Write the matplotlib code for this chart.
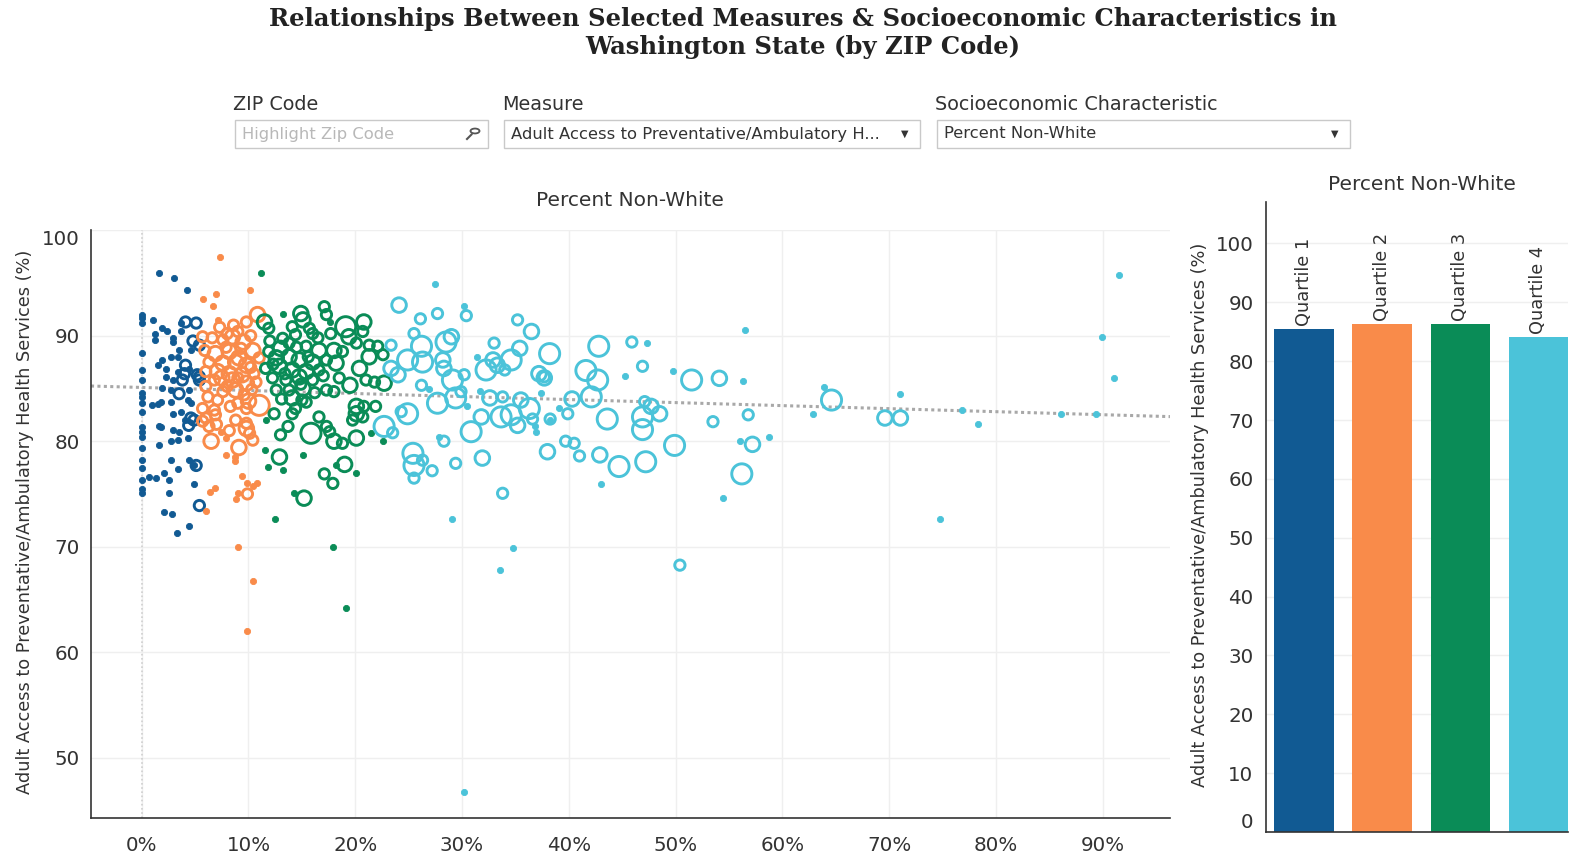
import numpy as np
import matplotlib
matplotlib.use("Agg")
import matplotlib.pyplot as plt
from matplotlib.patches import Rectangle, Circle
from matplotlib.lines import Line2D

# ---- data: (percent non-white, access %, size code) ----
q1_points = [
    (0.0, 91.96, 0), (0.0, 91.65, 0), (0.0, 91.18, 0), (0.0, 88.33, 0), (0.0, 86.75, 0),
    (0.0, 85.8, 0), (0.0, 84.54, 0), (0.0, 84.2, 0), (0.0, 83.6, 0), (0.0, 82.8, 0),
    (0.0, 81.37, 0), (0.0, 80.9, 0), (0.0, 80.43, 0), (0.0, 79.33, 0), (0.0, 78.2, 0),
    (0.0, 77.43, 0), (0.0, 76.3, 0), (0.0, 75.5, 0), (0.0, 75.06, 0),
    (1.6, 95.9, 0), (3.0, 95.5, 0), (4.2, 94.3, 0), (1.1, 91.5, 0), (1.2, 90.2, 0),
    (1.2, 89.6, 0), (1.9, 90.7, 0), (2.4, 90.4, 0), (2.9, 89.8, 0), (2.9, 89.4, 0),
    (3.7, 90.4, 0), (3.7, 91.2, 0), (4.1, 91.3, 1), (5.1, 91.2, 1), (4.8, 89.5, 1),
    (5.4, 89.1, 1), (4.6, 88.6, 0), (3.5, 88.6, 0), (3.4, 88.0, 0), (1.9, 87.7, 0),
    (1.5, 87.2, 0), (2.7, 88.0, 0), (4.1, 87.2, 1), (3.4, 86.6, 0), (2.3, 86.8, 0),
    (2.3, 86.1, 0), (4.0, 86.4, 1), (4.4, 86.8, 0), (5.2, 86.3, 1), (5.4, 85.8, 1),
    (3.8, 85.8, 1), (2.9, 85.8, 0), (1.9, 85.0, 0), (2.7, 84.9, 0), (3.5, 84.5, 1),
    (4.4, 84.9, 0), (4.3, 83.9, 0), (1.8, 83.7, 0), (2.7, 83.7, 0), (1.0, 83.4, 0),
    (1.5, 83.5, 0), (4.6, 83.6, 0), (2.9, 82.6, 0), (3.7, 82.8, 0), (4.1, 82.0, 0),
    (4.6, 82.2, 1), (4.9, 82.0, 1), (4.4, 81.5, 1), (2.9, 81.1, 0), (3.5, 80.9, 0),
    (1.6, 81.4, 0), (1.8, 81.3, 0), (4.3, 80.3, 0), (2.7, 80.0, 0), (3.4, 80.1, 0),
    (1.6, 79.6, 0), (2.7, 78.2, 0), (4.4, 78.2, 0), (5.1, 77.7, 1), (3.4, 77.4, 0),
    (0.7, 76.6, 0), (1.3, 76.5, 0), (2.1, 77.0, 0), (2.6, 76.3, 0), (4.9, 75.9, 0),
    (2.6, 75.1, 0), (5.4, 73.9, 1), (2.1, 73.3, 0), (2.8, 73.1, 0), (4.4, 72.0, 0),
    (3.3, 71.3, 0), (5.4, 86.1, 1), (4.9, 77.7, 0),
]

q2_points = [
    (7.35, 97.5, 0), (7.0, 94.0, 0), (5.7, 93.5, 0), (6.7, 92.8, 0), (10.1, 94.3, 0),
    (7.1, 91.5, 0), (7.9, 78.7, 0), (8.7, 78.5, 0), (8.75, 78.1, 0), (6.9, 75.6, 0),
    (6.4, 75.2, 0), (9.4, 76.7, 0), (9.9, 76.0, 0), (10.4, 75.75, 0), (10.8, 76.0, 0),
    (9.0, 75.1, 0), (8.8, 74.5, 0), (9.9, 75.0, 1), (6.0, 73.4, 0), (9.0, 70.0, 0),
    (10.4, 66.75, 0), (9.9, 62.0, 0),
    (10.85, 92.0, 2), (9.8, 91.3, 1), (8.5, 89.9, 2), (7.6, 89.6, 1), (6.6, 89.8, 1),
    (5.7, 89.9, 1), (5.9, 88.6, 1), (6.9, 88.3, 2), (8.2, 88.5, 2), (9.3, 88.8, 1),
    (10.4, 88.6, 2), (11.0, 87.9, 1), (6.3, 87.5, 1), (7.6, 87.4, 2), (8.8, 87.5, 2),
    (9.8, 87.2, 2), (6.0, 86.6, 1), (7.1, 86.6, 2), (8.2, 86.4, 2), (9.4, 86.3, 2),
    (10.5, 86.4, 1), (6.8, 85.8, 1), (8.5, 85.8, 2), (9.8, 85.5, 2), (10.7, 85.6, 1),
    (6.0, 85.2, 1), (7.6, 84.7, 1), (8.8, 84.85, 2), (9.6, 84.4, 1), (6.2, 84.2, 1),
    (7.1, 83.9, 1), (9.0, 83.6, 1), (11.0, 83.4, 3), (5.7, 83.1, 1), (6.8, 82.95, 1),
    (9.8, 83.1, 1), (6.0, 82.2, 1), (6.9, 82.5, 1), (8.8, 82.0, 1), (9.8, 81.7, 1),
    (5.7, 81.9, 1), (6.3, 81.4, 1), (7.4, 80.9, 0), (10.4, 80.1, 1), (6.5, 80.0, 2),
    (7.9, 80.3, 0), (10.1, 80.75, 1), (9.8, 81.2, 2),
    (8.0, 90.2, 1), (9.0, 90.4, 1), (7.3, 90.8, 1), (10.2, 90.0, 1), (8.6, 91.0, 1),
    (9.5, 89.4, 2), (7.9, 88.9, 1), (9.1, 87.9, 2), (10.2, 87.0, 1), (7.5, 86.0, 2),
    (9.0, 86.0, 1), (8.0, 85.2, 1), (10.3, 84.9, 1), (10.0, 83.8, 2), (8.3, 83.3, 1),
    (7.0, 81.6, 1), (8.2, 81.0, 1), (9.1, 79.4, 2),
]

q3_points = [
    (17.1, 92.75, 1), (17.3, 92.0, 1), (17.6, 91.3, 0), (14.9, 92.1, 2), (15.1, 91.5, 2),
    (13.2, 92.1, 0), (11.5, 91.3, 2), (11.9, 90.7, 1), (14.1, 90.85, 1), (15.7, 90.7, 1),
    (16.0, 90.2, 1), (19.1, 90.85, 3), (20.8, 91.3, 2), (20.7, 90.4, 1), (17.7, 90.2, 1),
    (19.4, 89.9, 2), (13.2, 89.75, 1), (14.4, 90.1, 1), (13.8, 89.3, 1), (15.4, 89.0, 1),
    (16.6, 88.6, 2), (18.0, 88.6, 2), (18.8, 88.5, 1), (20.1, 89.3, 1), (21.3, 89.1, 1),
    (22.1, 89.0, 1), (21.3, 88.0, 2), (22.6, 88.2, 1), (11.9, 88.5, 1), (12.6, 87.9, 2),
    (13.8, 88.0, 2), (14.75, 87.7, 2), (16.0, 87.5, 2), (17.3, 87.7, 1), (18.2, 87.4, 2),
    (20.4, 86.9, 2), (21.0, 85.8, 1), (21.8, 85.6, 1), (22.7, 85.5, 2), (11.6, 86.9, 1),
    (12.9, 87.1, 2), (14.1, 86.75, 2), (15.4, 86.6, 2), (16.6, 86.75, 1), (12.25, 86.0, 1),
    (13.5, 85.8, 1), (14.75, 86.1, 2), (16.0, 85.8, 1), (17.3, 84.85, 1), (18.0, 84.7, 1),
    (12.6, 84.85, 1), (13.8, 84.85, 1), (15.1, 85.0, 2), (14.1, 84.1, 2), (15.4, 83.7, 1),
    (14.4, 83.1, 1), (14.1, 82.6, 1), (12.4, 82.6, 1), (11.6, 82.0, 0), (16.6, 82.3, 1),
    (17.3, 81.4, 1), (20.1, 83.3, 2), (20.8, 83.3, 1), (20.1, 82.6, 2), (20.7, 82.3, 1),
    (21.9, 83.3, 1), (19.75, 82.0, 1), (13.7, 81.4, 1), (13.0, 80.6, 1), (15.85, 80.75, 3),
    (17.6, 80.9, 1), (18.0, 80.0, 2), (18.8, 79.8, 1), (20.1, 80.3, 2), (21.5, 80.75, 0),
    (22.6, 80.0, 0), (11.5, 79.2, 0), (12.9, 78.5, 2), (15.1, 78.7, 0), (11.8, 77.6, 0),
    (13.2, 77.3, 0), (17.1, 76.9, 1), (18.2, 77.7, 0), (19.0, 77.8, 2), (20.1, 77.0, 0),
    (17.9, 76.0, 1), (14.3, 75.1, 0), (15.2, 74.6, 2), (12.45, 72.6, 0), (17.95, 69.95, 0),
    (19.15, 64.2, 0), (11.2, 95.9, 0),
    (12.0, 89.5, 1), (13.0, 88.8, 2), (14.5, 88.9, 1), (15.6, 88.0, 1), (12.3, 87.3, 1),
    (13.4, 86.4, 1), (14.9, 85.4, 1), (16.2, 84.6, 1), (13.1, 84.0, 1), (15.0, 83.9, 1),
    (16.5, 89.8, 1), (18.5, 86.0, 1), (19.5, 85.3, 2), (17.0, 86.2, 1),
]

q4_points = [
    (27.5, 94.9, 0), (24.1, 92.9, 2), (26.1, 91.6, 1), (27.7, 92.1, 1), (30.15, 92.8, 0),
    (30.4, 91.9, 1), (25.5, 90.2, 1), (23.35, 89.1, 1), (26.2, 89.0, 3), (28.5, 89.4, 3),
    (29.0, 89.9, 2), (24.9, 87.7, 3), (26.3, 87.5, 3), (28.2, 87.7, 2), (28.3, 86.9, 2),
    (23.35, 86.9, 2), (24.0, 86.3, 2), (30.2, 86.3, 1), (29.1, 85.8, 3), (31.4, 87.95, 0),
    (33.0, 89.3, 1), (32.9, 87.7, 2), (32.25, 86.75, 3), (33.3, 87.2, 2), (34.0, 86.75, 1),
    (34.6, 87.7, 3), (35.4, 88.8, 2), (35.2, 91.5, 1), (36.5, 90.4, 2), (38.2, 88.3, 3),
    (37.2, 86.4, 2), (37.7, 86.0, 2), (26.2, 85.3, 1), (26.9, 84.95, 0), (27.7, 83.6, 3),
    (29.4, 84.1, 3), (29.9, 84.7, 1), (30.5, 83.3, 0), (31.7, 84.8, 0), (32.6, 84.1, 2),
    (33.8, 84.2, 1), (35.5, 83.9, 2), (36.3, 83.1, 3), (31.8, 82.3, 2), (33.65, 82.3, 3),
    (34.6, 82.5, 3), (35.2, 81.5, 2), (36.6, 82.1, 1), (38.2, 82.0, 0), (39.05, 83.1, 0),
    (39.9, 82.6, 1), (40.3, 84.0, 2), (42.1, 84.2, 3), (41.6, 86.7, 3), (42.7, 85.8, 3),
    (42.8, 89.0, 3), (45.9, 89.4, 1), (47.3, 89.3, 0), (46.9, 87.1, 1), (45.25, 86.2, 0),
    (49.8, 86.7, 0), (51.5, 85.8, 3), (54.1, 85.96, 2), (56.3, 85.7, 0), (56.5, 90.5, 0),
    (56.8, 82.5, 1), (53.5, 81.85, 1), (58.7, 80.4, 0), (57.2, 79.7, 2), (56.0, 80.05, 0),
    (56.2, 76.9, 3), (54.4, 74.6, 0), (49.9, 79.6, 3), (47.2, 78.05, 3), (44.7, 77.6, 3),
    (42.9, 78.7, 2), (41.0, 78.6, 1), (39.7, 80.0, 1), (40.5, 79.8, 1), (38.0, 79.0, 2),
    (43.0, 75.9, 0), (46.9, 82.3, 3), (46.9, 81.1, 3), (47.7, 83.3, 2), (48.5, 82.6, 2),
    (47.1, 83.75, 1), (43.6, 82.1, 3), (30.85, 80.9, 3), (31.9, 78.4, 2), (33.8, 75.06, 1),
    (29.1, 72.6, 0), (29.4, 77.9, 1), (28.3, 80.0, 1), (27.2, 77.2, 1), (25.5, 77.7, 3),
    (25.4, 78.85, 3), (26.3, 78.2, 1), (25.5, 76.5, 1), (23.5, 80.8, 1), (22.7, 81.4, 3),
    (24.9, 82.6, 3), (24.3, 82.8, 1), (36.8, 81.4, 0), (36.9, 80.9, 0), (37.4, 84.6, 0),
    (37.7, 86.1, 1), (38.25, 82.1, 1), (27.8, 80.4, 0),
    (63.9, 85.1, 0), (64.6, 83.9, 3), (62.9, 82.6, 0), (69.6, 82.2, 2), (71.05, 82.2, 2),
    (71.05, 84.5, 0), (76.8, 83.0, 0), (78.3, 81.6, 0), (74.8, 72.6, 0), (86.05, 82.6, 0),
    (89.35, 82.6, 0), (89.9, 89.85, 0), (91.1, 86.0, 0), (91.5, 95.75, 0),
    (30.2, 46.75, 0), (33.6, 67.8, 0), (34.8, 69.9, 0), (50.4, 68.25, 1),
]

# dotted trend line, read at both ends of the x axis
trend_x = [-4.75, 96.3]
trend_y = [85.23, 82.33]

quartiles = ["Quartile 1", "Quartile 2", "Quartile 3", "Quartile 4"]
quartile_means = [85.5, 86.3, 86.3, 84.1]
colors = ["#115a93", "#f98b4a", "#0a8c57", "#4bc3d9"]

x_ticks = [0, 10, 20, 30, 40, 50, 60, 70, 80, 90]
y_ticks_left = [50, 60, 70, 80, 90, 100]
y_ticks_right = [0, 10, 20, 30, 40, 50, 60, 70, 80, 90, 100]

measure_label = "Adult Access to Preventative/Ambulatory Health Services (%)"

# ---- layout helpers (pixel coords of a 1588x865 canvas) ----
W, H = 1588, 865
TXT = "#333333"
plt.rcParams['font.family'] = ['DejaVu Sans']


def fx(x):
    return x / W


def fy(y):
    return 1 - y / H


fig = plt.figure(figsize=(W / 100, H / 100), dpi=100)
fig.patch.set_facecolor("white")

fig.text(fx(803), fy(33), "Relationships Between Selected Measures & Socioeconomic Characteristics in\n"
         "Washington State (by ZIP Code)", ha="center", va="center", fontsize=17.5,
         fontweight="bold", family="DejaVu Serif", color="#222222", linespacing=1.2)

# filter widgets
widgets = [
    ("ZIP Code", 235, 488, "Highlight Zip Code", "#b8b8b8", None),
    ("Measure", 504, 920, "Adult Access to Preventative/Ambulatory H...", TXT, "drop"),
    ("Socioeconomic Characteristic", 937, 1350, "Percent Non-White", TXT, "drop"),
]
for label, x0, x1, value, vcol, kind in widgets:
    fig.text(fx(x0 - 2), fy(105), label, ha="left", va="center", fontsize=13.8, color=TXT)
    fig.add_artist(Rectangle((fx(x0), fy(148)), fx(x1) - fx(x0), fy(120) - fy(148),
                             transform=fig.transFigure, facecolor="white",
                             edgecolor="#c9c9c9", lw=1))
    fig.text(fx(x0 + 7), fy(134), value, ha="left", va="center", fontsize=11.8, color=vcol)
    if kind == "drop":
        fig.text(fx(x1 - 15), fy(134), "\u25bc", ha="center", va="center", fontsize=7, color=TXT)
    else:
        fig.add_artist(Circle((fx(475), fy(131)), 4.5 / W, transform=fig.transFigure,
                              fill=False, edgecolor="#555555", lw=1.3))
        fig.add_artist(Line2D([fx(471.5), fx(467)], [fy(134.5), fy(139)],
                              transform=fig.transFigure, color="#555555", lw=1.5))

# ---- scatter ----
size_map = {1: 55, 2: 110, 3: 210}
ax = fig.add_axes([fx(91), fy(818), fx(1170) - fx(91), fy(230) - fy(818)])
for i, pts in enumerate([q1_points, q2_points, q3_points, q4_points]):
    dots = [p for p in pts if p[2] == 0]
    rings = [p for p in pts if p[2] > 0]
    ax.scatter([p[0] for p in rings], [p[1] for p in rings],
               s=[size_map[p[2]] for p in rings], facecolors="none",
               edgecolors=colors[i], linewidths=2.1, zorder=3)
    ax.scatter([p[0] for p in dots], [p[1] for p in dots], s=20, color=colors[i],
               edgecolors=colors[i], linewidths=0.6, zorder=3)
ax.plot(trend_x, trend_y, color="#a8a8a8", lw=2.2, ls=(0, (1, 1.1)), zorder=2)

ax.set_xlim(-4.75, 96.3)
ax.set_ylim(44.28, 100.02)
ax.set_xticks(x_ticks)
ax.set_xticklabels([f"{t}%" for t in x_ticks])
ax.set_yticks(y_ticks_left)
ax.grid(True, color="#efefef", lw=1.0, zorder=0)
ax.axvline(0, color="#cfcfcf", lw=1.2, ls=(0, (1, 1.5)), zorder=1)
for s in ["top", "right"]:
    ax.spines[s].set_visible(False)
for s in ["left", "bottom"]:
    ax.spines[s].set_color("#333333")
    ax.spines[s].set_linewidth(1.2)
ax.tick_params(axis="both", length=0, labelsize=14.3, colors=TXT)
ax.tick_params(axis="x", pad=13)
ax.tick_params(axis="y", pad=8)
ax.get_yticklabels()[-1].set_va("top")
ax.set_axisbelow(True)

fig.text(fx(630), fy(201), "Percent Non-White", ha="center", va="center", fontsize=14.5, color=TXT)
fig.text(fx(25), fy(522), measure_label, ha="center", va="center", rotation=90,
         fontsize=12.8, color=TXT)

# ---- quartile bars ----
bx = fig.add_axes([fx(1266), fy(832), fx(1568) - fx(1266), fy(201.7) - fy(832)])
pos = np.arange(len(quartiles))
bx.bar(pos, quartile_means, width=0.76, color=colors, zorder=2)
for p, v, q in zip(pos, quartile_means, quartiles):
    bx.text(p, v + 0.5, q, rotation=90, ha="center", va="bottom", fontsize=12.8, color=TXT)
bx.set_xlim(-0.486, 3.38)
bx.set_ylim(0, 107.1)
bx.set_yticks(y_ticks_right)
bx.set_xticks([])
bx.grid(True, axis="y", color="#efefef", lw=1.0, zorder=0)
for s in ["top", "right"]:
    bx.spines[s].set_visible(False)
for s in ["left", "bottom"]:
    bx.spines[s].set_color("#333333")
    bx.spines[s].set_linewidth(1.2)
bx.tick_params(axis="y", length=0, labelsize=14.3, colors=TXT, pad=9)
bx.get_yticklabels()[0].set_va("bottom")
bx.set_axisbelow(True)

fig.text(fx(1422), fy(185), "Percent Non-White", ha="center", va="center", fontsize=14.5, color=TXT)
fig.text(fx(1200), fy(515), measure_label, ha="center", va="center", rotation=90,
         fontsize=12.8, color=TXT)

fig.savefig("out.png", dpi=100)
